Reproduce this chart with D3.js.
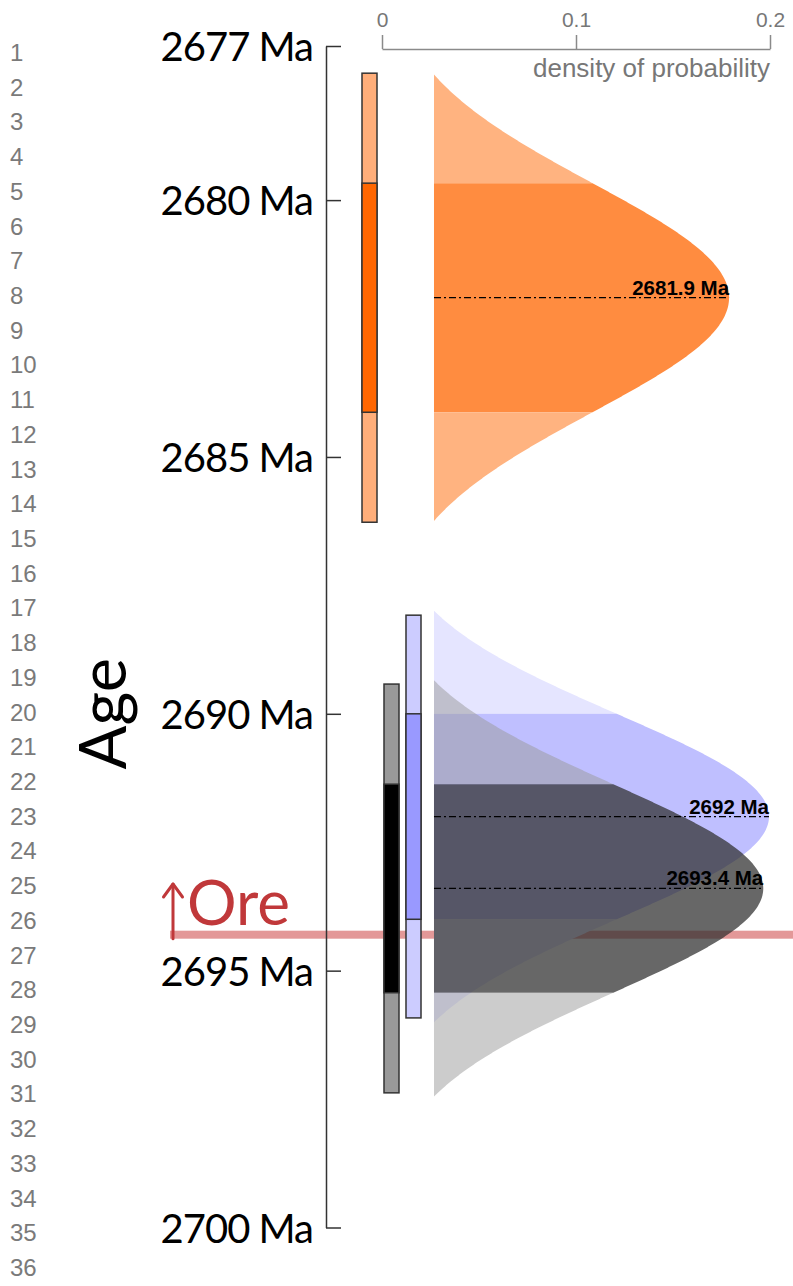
<!DOCTYPE html>
<html>
<head>
<meta charset="utf-8">
<script src="https://cdn.jsdelivr.net/npm/d3@7"></script>
<style>
  html, body { margin: 0; padding: 0; background: #fff; }
  svg { display: block; }
</style>
</head>
<body>
<svg id="chart" width="793" height="1286"></svg>
<script>
// ---- data ----
const seriesIds   = ["dateA", "dateB", "dateC"];        // bar column order
const meanAges    = [2681.9, 2693.4, 2692.0];            // Ma
const sigmaAges   = [2.23, 2.03, 2.0];                   // 1 sigma, Ma
const ageTicks    = [2677, 2680, 2685, 2690, 2695, 2700];
const densityTicks = [0, 0.1, 0.2];
const rowLabels   = ["1","2","3","4","5","6","7","8","9","10","11","12","13","14","15","16","17","18",
                     "19","20","21","22","23","24","25","26","27","28","29","30","31","32","33","34","35","36"];
const oreAge      = 2694.3;
const densityFloor = 0.0268;   // curves are drawn where density exceeds this level
const ci95 = 1.96;             // outer bar half-width in sigmas

// ---- styles ----
const styles = {
  dateA: { tail: "#FFB380", core: "#FF8C40", tailOp: 1, coreOp: 1, barTail: "#FFAE7A", barCore: "#FF6600" },
  dateB: { tail: "#999999", core: "#2F2F2F", tailOp: 0.5, coreOp: 0.73, barTail: "#999999", barCore: "#000000" },
  dateC: { tail: "#E5E5FF", core: "#BFBFFF", tailOp: 1, coreOp: 1, barTail: "#CCCCFF", barCore: "#9999FF" }
};
const drawOrder = ["dateA", "dateC", "dateB"];

const svg = d3.select("#chart");
svg.append("rect").attr("width", 793).attr("height", 1286).attr("fill", "#fff");

// ---- scales ----
const y = d3.scaleLinear().domain([2677, 2700]).range([46, 1227.5]);
const xDen = d3.scaleLinear().domain([0, 0.2]).range([382, 770]);
const col = d3.scaleBand().domain(seriesIds).range([362, 421]).paddingInner(0.318).paddingOuter(0);
const rowY = d3.scaleLinear().domain([1, 36]).range([61, 1276]);

const series = seriesIds.map((id, i) => ({ id, mu: meanAges[i], s: sigmaAges[i] }));
const pdf = (a, mu, s) => Math.exp(-0.5 * ((a - mu) / s) ** 2) / (s * Math.sqrt(2 * Math.PI));

// ---- line numbers at left ----
svg.append("g").selectAll("text").data(rowLabels).join("text")
  .attr("x", 10).attr("y", (d, i) => rowY(i + 1))
  .attr("font-family", "'Liberation Sans', Arial, sans-serif")
  .attr("font-size", 24).attr("fill", "#7a7a7a")
  .text(d => d);

// ---- ore marker line (beneath the marks) ----
svg.append("rect")
  .attr("x", 170).attr("y", y(oreAge) - 4)
  .attr("width", 793 - 170).attr("height", 8)
  .attr("fill", "#C83232").attr("opacity", 0.5);

// ---- age axis ----
const yAxis = d3.axisRight(y).tickValues(ageTicks).tickSize(15).tickSizeOuter(0)
  .tickPadding(-28).tickFormat(d => d + " Ma");
const gy = svg.append("g").attr("transform", "translate(326,0)").call(yAxis);
gy.select(".domain").attr("stroke", "#333").attr("stroke-width", 1.5);
gy.selectAll(".tick line").attr("stroke", "#333").attr("stroke-width", 1.5);
gy.selectAll(".tick text")
  .attr("text-anchor", "end").attr("dy", "0.37em")
  .attr("font-family", "Lato, sans-serif").attr("font-size", 40)
  .attr("letter-spacing", -1).attr("fill", "#000");

svg.append("text")
  .attr("transform", `translate(126,${y(2690)}) rotate(-90)`)
  .attr("text-anchor", "middle")
  .attr("font-family", "Lato, sans-serif").attr("font-size", 65).attr("fill", "#000")
  .text("Age");

// ---- density axis ----
const xAxis = d3.axisTop(xDen).tickValues(densityTicks).tickSize(14).tickSizeOuter(0)
  .tickPadding(8.5).tickFormat(d => String(d));
const gx = svg.append("g").attr("transform", "translate(0,49)").call(xAxis);
gx.select(".domain").attr("stroke", "#8a8a8a").attr("stroke-width", 1.5);
gx.selectAll(".tick line").attr("stroke", "#8a8a8a").attr("stroke-width", 1.5);
gx.selectAll(".tick text")
  .attr("font-family", "'Liberation Sans', Arial, sans-serif").attr("font-size", 21).attr("fill", "#777");
svg.append("text")
  .attr("x", xDen(0.2)).attr("y", 77).attr("text-anchor", "end")
  .attr("font-family", "'Liberation Sans', Arial, sans-serif").attr("font-size", 26).attr("fill", "#777")
  .text("density of probability");

// ---- probability curves ----
const area = (mu, s) => d3.area()
  .y(a => y(a))
  .x0(xDen(densityFloor))
  .x1(a => xDen(Math.max(densityFloor, pdf(a, mu, s))));

function samples(lo, hi) {
  const n = Math.max(2, Math.ceil((hi - lo) / 0.01));
  return d3.range(n + 1).map(k => lo + (hi - lo) * k / n);
}

const gCurves = svg.append("g");
drawOrder.forEach(id => {
  const d = series.find(e => e.id === id);
  const st = styles[id];
  const peak = pdf(d.mu, d.mu, d.s);
  const zc = Math.sqrt(-2 * Math.log(densityFloor / peak));
  const lo = d.mu - zc * d.s, hi = d.mu + zc * d.s;
  const gen = area(d.mu, d.s);
  const g = gCurves.append("g");
  [[lo, d.mu - d.s, "tail"], [d.mu - d.s, d.mu + d.s, "core"], [d.mu + d.s, hi, "tail"]].forEach(([a, b, part]) => {
    g.append("path")
      .attr("d", gen(samples(a, b)))
      .attr("fill", st[part])
      .attr("fill-opacity", st[part + "Op"]);
  });
});

// ---- mean lines and labels ----
const gMeans = svg.append("g");
series.forEach(d => {
  const px = xDen(pdf(d.mu, d.mu, d.s));
  gMeans.append("line")
    .attr("x1", xDen(densityFloor)).attr("x2", px)
    .attr("y1", y(d.mu)).attr("y2", y(d.mu))
    .attr("stroke", "#000").attr("stroke-width", 1.3)
    .attr("stroke-dasharray", "7,3,2,3");
  gMeans.append("text")
    .attr("x", px).attr("y", y(d.mu) - 3).attr("text-anchor", "end")
    .attr("font-family", "'Liberation Sans', Arial, sans-serif")
    .attr("font-weight", "bold").attr("font-size", 20.5).attr("fill", "#000")
    .text((Math.round(d.mu * 10) / 10) + " Ma");
});

// ---- uncertainty bars (95% outer, 1 sigma inner) ----
const gBars = svg.append("g");
series.forEach(d => {
  const st = styles[d.id];
  const x0 = col(d.id), w = col.bandwidth();
  gBars.append("rect")
    .attr("x", x0).attr("y", y(d.mu - ci95 * d.s))
    .attr("width", w).attr("height", y(d.mu + ci95 * d.s) - y(d.mu - ci95 * d.s))
    .attr("fill", st.barTail).attr("stroke", "#333").attr("stroke-width", 1.5);
  gBars.append("rect")
    .attr("x", x0).attr("y", y(d.mu - d.s))
    .attr("width", w).attr("height", y(d.mu + d.s) - y(d.mu - d.s))
    .attr("fill", st.barCore).attr("stroke", "#333").attr("stroke-width", 1.5);
});

// ---- ore label with arrow ----
const oreY = y(oreAge);
const gOre = svg.append("g").attr("stroke", "#C0383A").attr("stroke-width", 3).attr("fill", "none")
  .attr("stroke-linecap", "round").attr("stroke-linejoin", "round");
gOre.append("path").attr("d", `M173,${oreY + 4} V884`);
gOre.append("path").attr("d", `M163.5,897 L173,884 L182.5,897`);
svg.append("text")
  .attr("x", 187).attr("y", 925)
  .attr("font-family", "Lato, sans-serif").attr("font-size", 62).attr("fill", "#C0383A")
  .text("Ore");
</script>
</body>
</html>
